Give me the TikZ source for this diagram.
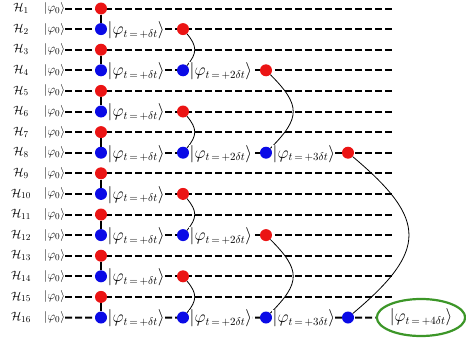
\documentclass[tikz,border=0pt]{standalone}
\usepackage{amsmath}
\usepackage{amsfonts}
\usetikzlibrary{positioning,shapes.geometric}

\definecolor{dotred}{RGB}{235,20,20}
\definecolor{dotblue}{RGB}{10,10,230}
\definecolor{ringgreen}{RGB}{60,150,40}

\tikzset{
  reddot/.style={circle, fill=dotred, inner sep=0pt, minimum size=12pt},
  bluedot/.style={circle, fill=dotblue, inner sep=0pt, minimum size=12pt},
  wire/.style={line width=2pt, dash pattern=on 7pt off 3pt},
  rung/.style={line width=1.2pt},
  hop/.style={line width=0.8pt},
  ket/.style={fill=white, inner sep=0.3pt, yshift=-1pt, font=\fontsize{16}{18}\selectfont},
}
\newcommand{\tket}[1]{|\varphi_{t\,=\,+#1\delta t}\rangle}

\begin{document}
\begin{tikzpicture}[x=1pt,y=-1pt]
\useasboundingbox (0,0) rectangle (466,348);

% qubit rows
\foreach \i in {1,...,16}{
  \pgfmathsetmacro\yy{8.5+(\i-1)*20.6}
  \node[font=\fontsize{13}{15}\selectfont] (h\i) at (21,\yy) {$\mathcal{H}_{\i}$};
  \node[anchor=west, inner sep=0pt, font=\fontsize{13}{15}\selectfont] (p\i) at (44,\yy) {$|\varphi_0\rangle$};
  \coordinate (e\i) at (392,\yy);
}
\node[ellipse, draw=ringgreen, line width=2.2pt, minimum width=88pt, minimum height=37pt,
      inner sep=0pt, font=\fontsize{16}{18}\selectfont] (goal) at (421,317.5) {$\tket{4}$};

\foreach \i in {1,...,15}
  \draw[wire] (p\i) -- (e\i);
\draw[wire] (p16) -- (goal);

% first step
\foreach \i [evaluate=\i as \j using int(\i+1)] in {1,3,...,15}{
  \node[reddot] (a\i) at (101,{8.5+(\i-1)*20.6}) {};
  \node[bluedot] (a\j) at (101,{8.5+(\j-1)*20.6}) {};
  \draw[rung] (a\i) -- (a\j);
  \node[ket, right=0pt of a\j] {$\tket{}$};
}

% second step
\foreach \i [evaluate=\i as \j using int(\i+2)] in {2,6,10,14}{
  \node[reddot] (b\i) at (183,{8.5+(\i-1)*20.6}) {};
  \node[bluedot] (b\j) at (183,{8.5+(\j-1)*20.6}) {};
  \draw[hop] (b\i) to[out=-50,in=50,looseness=1.3] (b\j);
  \node[ket, right=0pt of b\j] {$\tket{2}$};
}

% third step
\foreach \i [evaluate=\i as \j using int(\i+4)] in {4,12}{
  \node[reddot] (c\i) at (266,{8.5+(\i-1)*20.6}) {};
  \node[bluedot] (c\j) at (266,{8.5+(\j-1)*20.6}) {};
  \draw[hop] (c\i) to[out=-45,in=45,looseness=1.5] (c\j);
  \node[ket, right=0pt of c\j] {$\tket{3}$};
}

% fourth step
\node[reddot] (d8) at (348,152.7) {};
\node[bluedot] (d16) at (348,317.5) {};
\draw[hop] (d8) to[out=-40,in=40,looseness=1.6] (d16);

\end{tikzpicture}
\end{document}
